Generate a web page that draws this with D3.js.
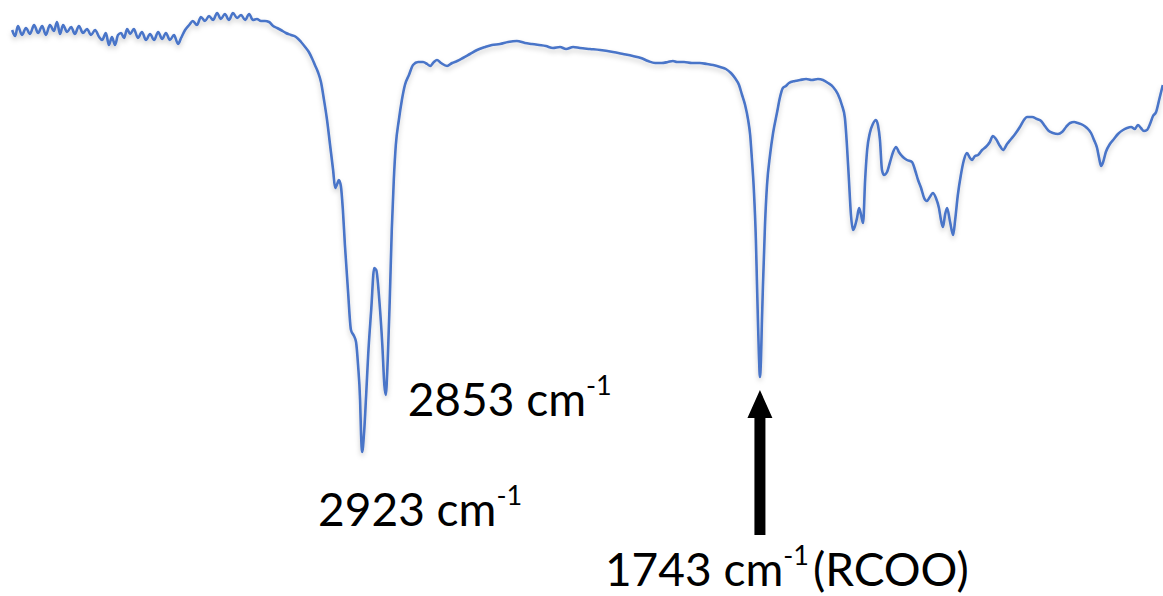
<!DOCTYPE html>
<html>
<head>
<meta charset="utf-8">
<script src="https://cdn.jsdelivr.net/npm/d3@7"></script>
<style>
  body { margin: 0; background: #fff; }
  svg { display: block; }
  text { font-family: Lato, "Open Sans", sans-serif; fill: #000; }
</style>
</head>
<body>
<svg id="chart" width="1163" height="596"></svg>
<script>
// wavenumber (cm-1)
const wavenumber = [
  3961,3952,3944,3932,3920,3908,3896,3884,3872,3861,3849,3837,3828,3819,3810,3798,3786,3775,3763,3751,
  3739,3727,3715,3703,3694,3683,3674,3665,3656,3647,3638,3629,3620,3611,3600,3588,3576,3564,3552,3540,
  3528,3516,3505,3493,3481,3469,3460,3448,3436,3425,3413,3401,3389,3377,3365,3353,3342,3330,3318,3306,
  3294,3282,3270,3258,3247,3235,3223,3211,3199,3187,3175,3164,3149,3134,3119,3104,3092,3081,3072,3063,
  3054,3045,3036,3027,3018,3009,3003,2997,2992,2986,2980,2974,2965,2956,2947,2941,2935,2929,2926,2923,
  2917,2911,2905,2896,2887,2881,2872,2863,2857,2853,2847,2841,2835,2829,2823,2814,2805,2796,2784,2772,
  2757,2742,2730,2721,2710,2701,2689,2671,2656,2641,2624,2603,2582,2558,2538,2514,2490,2464,2440,2419,
  2398,2378,2357,2336,2318,2297,2277,2247,2217,2179,2149,2120,2096,2075,2054,2034,2016,2001,1989,1968,
  1945,1921,1900,1882,1861,1844,1829,1817,1805,1796,1787,1778,1772,1767,1761,1755,1752,1749,1746,1743,
  1740,1737,1734,1728,1722,1713,1704,1692,1684,1675,1666,1657,1639,1624,1606,1589,1571,1556,1541,1526,
  1512,1500,1491,1485,1479,1473,1467,1461,1455,1449,1443,1437,1431,1425,1417,1408,1399,1393,1387,1381,
  1375,1366,1357,1348,1339,1331,1319,1307,1292,1283,1274,1265,1256,1248,1239,1230,1221,1212,1206,1200,
  1194,1188,1179,1170,1164,1156,1147,1138,1129,1120,1114,1105,1096,1084,1073,1061,1052,1043,1031,1022,
  1010,998,986,972,960,951,936,921,909,898,886,874,859,847,835,823,811,800,785,773,
  761,752,743,737,731,725,717,705,693,681,666,654,642,631,622,613,604,595,586,577,
  568,559,548
];

// transmittance (%)
const transmittance = [
  94,92.8,94.8,93,94.4,93.2,95,93.4,94.8,93,95,93.8,95.6,93.2,95,93.6,94.6,93.2,94.8,93.4,
  94.2,93,94,92.6,92,93.4,91,92.6,91,93,93.4,92.4,94.2,93.2,94.2,92.4,93.6,92,93.2,92,
  93.6,92.2,93.4,92,93,91.2,92.4,94,95,95.8,95,96.6,95.8,96.8,96,97.4,96.2,97.2,96,97.4,
  96.4,97,96,97.2,96,96.2,95.8,95.8,95.6,94.8,94.4,94,93.4,93,92.6,91.6,90.6,89.6,88.4,87,
  85.6,83.6,80,76,71,66,62.4,63.2,64,62.8,58,51,42,34,32.8,31.6,27,20,13,9.6,
  13.6,21,29,38,46.4,46,40,31,23,21,28,40,54,64,71,76,80,83,85,87,
  87.6,87.6,87.2,86.8,87.6,88,87.4,86.8,87.4,87.8,88.4,89.2,90,90.6,91,91.2,91.6,91.8,91.4,91.2,
  91,90.8,90.4,90.6,90.2,90.6,90.4,90.2,90,89.6,89.2,88.8,88.4,87.8,87.4,87.4,87.6,87.8,87.6,87.6,
  87.4,87.4,87.2,87,86.6,86.2,85.4,84.4,83,81,79,76,73,68.4,62,52,44,36,29,24.6,
  28,36,43,55,63,69,73.4,77.6,80.4,82.4,82.8,83.4,83.8,84,84.2,84,84.2,84,83.4,82.6,
  81.2,79,76.4,71,64,57,54,54.8,56.4,58.4,57,55.4,64,70,73.4,75.2,76,75,72,66,
  65,65.6,67.6,69.6,70.6,69.6,68.6,68,67.6,66,64,62.4,60.4,59.8,60.6,61.4,60.4,58.4,56,54.6,
  57,58.4,55.6,53,56,61,65,68,69.4,68.4,68,68.8,69,70,70.6,71.6,72.8,72.2,70.8,70,
  71.2,72.2,73.2,74.6,76,76.6,76.6,76.2,75.8,74.8,73.8,73.4,73.2,73.6,74.6,75.4,75.6,75.4,75,74.4,
  73.4,72,70.4,68.4,66.8,67.6,69.6,71.2,72.2,73.2,74,74.4,74.6,74.2,75,74.4,73.8,74,75.2,76.8,
  77.6,80,83
];

// labelled peaks
const peakWavenumbers = [2923, 2853, 1743];
const peakLabels = ["2923 cm", "2853 cm", "1743 cm"];
const peakSuffix = ["", "", "(RCOO)"];

const svg = d3.select("#chart");

var x = d3.scaleLinear().domain([4000, 500]).range([-1, 1179]);
var y = d3.scaleLinear().domain([0, 100]).range([500, 0]);

const data = wavenumber.map((w, i) => ({w: w, t: transmittance[i]}));

// soft shadow under the trace, like the pasted image
const defs = svg.append("defs");
const f = defs.append("filter").attr("id", "shadow")
  .attr("x", "-5%").attr("y", "-5%").attr("width", "110%").attr("height", "120%");
f.append("feDropShadow").attr("dx", 0).attr("dy", 3).attr("stdDeviation", 2.5)
  .attr("flood-color", "#000").attr("flood-opacity", 0.2);

const line = d3.line()
  .x(d => x(d.w))
  .y(d => y(d.t))
  .curve(d3.curveMonotoneX);

svg.append("path")
  .datum(data)
  .attr("d", line)
  .attr("fill", "none")
  .attr("stroke", "#4a74c8")
  .attr("stroke-width", 2.6)
  .attr("stroke-linejoin", "round")
  .attr("filter", "url(#shadow)");

// label placement (offsets from the peak, baseline)
const labelPos = [
  {dx: -44, y: 526},
  {dx: 22, y: 416},
  {dx: -155, y: 586}
];

peakWavenumbers.forEach((w, i) => {
  const t = svg.append("text")
    .attr("x", x(w) + labelPos[i].dx)
    .attr("y", labelPos[i].y)
    .attr("font-size", 46);
  t.append("tspan").text(peakLabels[i]);
  t.append("tspan").attr("font-size", 27).attr("dy", -21).text("-1");
  if (peakSuffix[i]) {
    t.append("tspan").attr("dy", 21).attr("dx", 4).text(peakSuffix[i]);
  }
});

// arrow pointing up at the carbonyl band
const ax = x(1743);
svg.append("path")
  .attr("d", `M${ax - 5.5},535 L${ax + 5.5},535 L${ax + 5.5},418 L${ax + 12.5},418 L${ax},390 L${ax - 12.5},418 L${ax - 5.5},418 Z`)
  .attr("fill", "#000");
</script>
</body>
</html>
